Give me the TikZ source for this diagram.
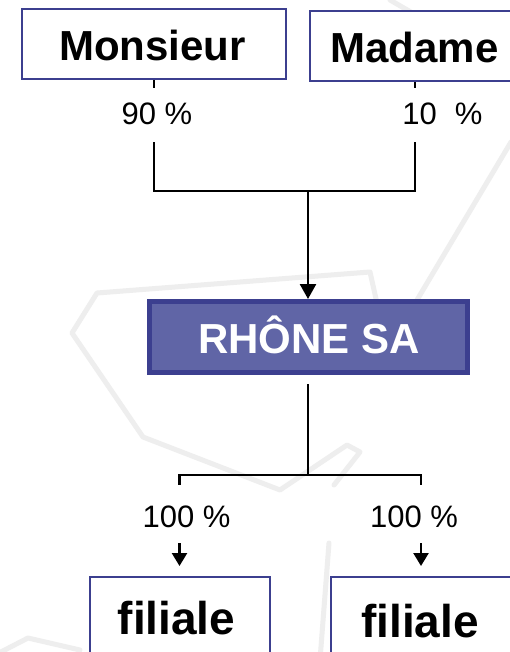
\documentclass[tikz,border=0pt]{standalone}
\usepackage{fontspec}
\setmainfont{Liberation Sans}
\usetikzlibrary{arrows.meta}
\definecolor{boxblue}{RGB}{60,63,143}
\definecolor{rhfill}{RGB}{96,101,166}
\definecolor{wm}{RGB}{238,238,238}
\tikzset{
  ownerbox/.style={draw=boxblue, line width=2pt, fill=white, inner sep=0pt},
  headbox/.style={draw=boxblue, line width=5pt, fill=rhfill, inner sep=0pt},
  bigtext/.style={font=\fontsize{42}{48}\selectfont\bfseries, anchor=base, inner sep=0pt},
  filtext/.style={font=\fontsize{46}{52}\selectfont\bfseries, anchor=base, inner sep=0pt},
  pcttop/.style={font=\fontsize{31}{36}\selectfont, fill=white, inner sep=0pt,
                 text height=20pt, text depth=0pt, minimum height=54pt, minimum width=100pt},
  pctlow/.style={font=\fontsize{31}{36}\selectfont, fill=white, inner sep=0pt,
                 text height=26pt, text depth=0pt, minimum height=58pt, minimum width=110pt},
  link/.style={line width=2.5pt, draw=black},
  wmline/.style={draw=wm, line width=5pt, line join=round, line cap=round},
}
\begin{document}
\begin{tikzpicture}[x=1pt, y=-1pt]
\useasboundingbox (0,0) rectangle (510,652);
\clip (0,0) rectangle (510,652);
\fill[white] (0,0) rectangle (510,652);

% faint watermark
\draw[wmline] (390,0) -- (520,75);
\draw[wmline] (511,142) -- (417,300);
\draw[wmline] (383,330) -- (370,272) -- (97,293) -- (72,333) -- (143,437)
      -- (280,490) -- (347,445) -- (360,452) -- (334,485);
\draw[wmline] (329,543) -- (320,660);
\draw[wmline] (-5,655) -- (28,638) -- (80,650);

% boxes (shapes)
\node[ownerbox, minimum width=264pt, minimum height=70pt] (mon) at (154,44.5) {};
\node[ownerbox, minimum width=210pt, minimum height=70pt] (mad) at (415,46.5) {};
\node[headbox, minimum width=318pt, minimum height=71pt] (rh) at (308,337) {};
\node[ownerbox, minimum width=180pt, minimum height=90pt] (fil1) at (179.5,622) {};
\node[ownerbox, minimum width=180pt, minimum height=90pt] (fil2) at (421,622) {};

% connectors
\coordinate (j1) at (308,191);
\coordinate (j2) at (308,475);
\draw[link] (mon.south) |- (j1);
\draw[link] (mad.south) |- (j1);
\draw[link, -{Triangle[length=15pt,width=16pt]}] (j1) -- (rh.north);
\draw[link, shorten <=9pt] (rh.south) -- (j2);
\draw[link, -{Triangle[length=13pt,width=15pt]}, shorten >=10pt] (j2) -| (fil1.north);
\draw[link, -{Triangle[length=13pt,width=15pt]}, shorten >=10pt] (j2) -| (fil2.north);

% percentage labels
\node[pcttop] (p90) at (157,115) {90 \%};
\node[pcttop] (p10) at (442.5,115) {10\hspace{18pt}\%};
\node[pctlow] (p100a) at (186.5,514) {100 \%};
\node[pctlow] (p100b) at (414,514) {100 \%};

% box texts
\node[bigtext] (monT) at (152.5,61) {Monsieur};
\node[bigtext] (madT) at (414.5,62.5) {Madame};
\node[bigtext, text=white] (rhT) at (309,353) {RHÔNE SA};
\node[filtext] (fil1T) at (176.5,634) {filiale};
\node[filtext] (fil2T) at (420,637) {filiale};
\end{tikzpicture}
\end{document}
